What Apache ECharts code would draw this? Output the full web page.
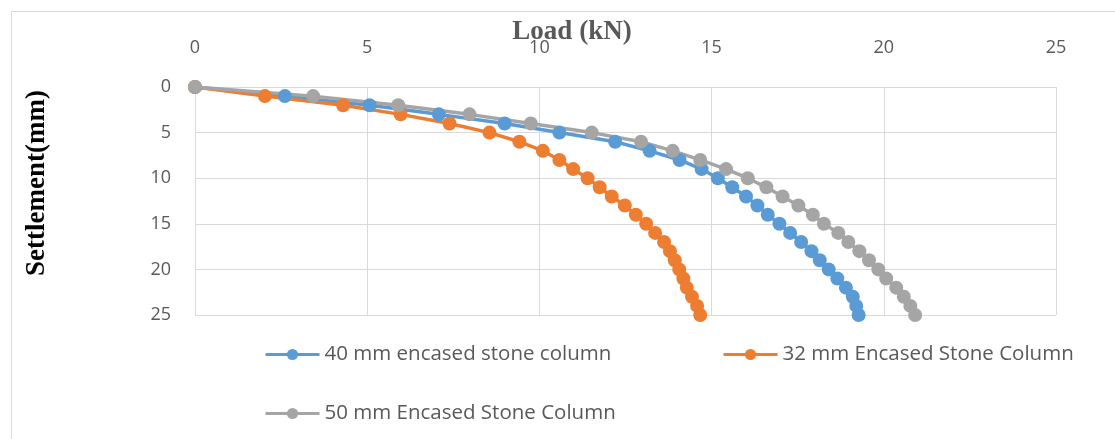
<!DOCTYPE html>
<html>
<head>
<meta charset="utf-8">
<script src="https://cdn.jsdelivr.net/npm/echarts@6/dist/echarts.min.js"></script>
<style>
  html, body { margin: 0; padding: 0; background: #fff; }
  #main { width: 1115px; height: 439px; }
</style>
</head>
<body>
<div id="main"></div>
<script>
// settlement steps (mm), one point per mm
var settlement = [0, 1, 2, 3, 4, 5, 6, 7, 8, 9, 10, 11, 12, 13, 14, 15, 16, 17, 18, 19, 20, 21, 22, 23, 24, 25];
// load (kN) for each settlement step
var load40 = [0, 2.61, 5.07, 7.08, 8.99, 10.58, 12.2, 13.2, 14.07, 14.71, 15.18, 15.6, 16.0, 16.33, 16.63, 16.97, 17.28, 17.6, 17.9, 18.14, 18.4, 18.65, 18.9, 19.1, 19.2, 19.27];
var load32 = [0, 2.03, 4.3, 5.97, 7.39, 8.55, 9.42, 10.1, 10.58, 10.98, 11.4, 11.75, 12.1, 12.48, 12.8, 13.1, 13.36, 13.62, 13.79, 13.93, 14.06, 14.18, 14.28, 14.43, 14.58, 14.67];
var load50 = [0, 3.43, 5.9, 7.97, 9.75, 11.52, 12.95, 13.87, 14.67, 15.42, 16.05, 16.59, 17.06, 17.52, 17.94, 18.26, 18.68, 18.97, 19.29, 19.57, 19.84, 20.07, 20.36, 20.58, 20.77, 20.91];
var seriesNames = ['40 mm encased stone column', '32 mm Encased Stone Column', '50 mm Encased Stone Column'];
var colors = ['#5b9bd5', '#ed7d31', '#a5a5a5'];

function pairs(loads) {
  return loads.map(function (v, i) { return [v, settlement[i]]; });
}

var myChart = echarts.init(document.getElementById('main'));
var labelFont = { fontFamily: 'Open Sans', fontSize: 18, color: '#595959' };

function legendAt(name, left, top) {
  return {
    data: [name],
    left: left,
    top: top,
    padding: 0,
    itemWidth: 54,
    itemHeight: 14,
    itemGap: 0,
    lineStyle: { width: 3 },
    textStyle: { fontFamily: 'Open Sans', fontSize: 20.5, color: '#595959' }
  };
}

var option = {
  backgroundColor: '#fff',
  animation: false,
  color: colors,
  grid: { left: 195, right: 59, top: 87, bottom: 124 },
  legend: [
    legendAt(seriesNames[0], 264, 344),
    legendAt(seriesNames[1], 722, 344),
    legendAt(seriesNames[2], 264, 403)
  ],
  graphic: [
    // outer frame (left + top only)
    { type: 'line', shape: { x1: 11.5, y1: 11.5, x2: 1115, y2: 11.5 }, style: { stroke: '#d9d9d9', lineWidth: 1 } },
    { type: 'line', shape: { x1: 11.5, y1: 11.5, x2: 11.5, y2: 439 }, style: { stroke: '#d9d9d9', lineWidth: 1 } },
    {
      type: 'text', z: 10,
      x: 572, y: 32,
      style: {
        text: 'Load (kN)', x: 0, y: 0,
        font: 'bold 27px "Liberation Serif"', fill: '#595959',
        align: 'center', verticalAlign: 'middle'
      }
    },
    {
      type: 'text', z: 10,
      x: 37, y: 183, rotation: Math.PI / 2,
      style: {
        text: 'Settlement(mm)', x: 0, y: 0,
        font: 'bold 27px "Liberation Serif"', fill: '#000',
        align: 'center', verticalAlign: 'middle'
      }
    }
  ],
  xAxis: {
    type: 'value',
    position: 'top',
    min: 0, max: 25, interval: 5,
    axisLine: { show: true, lineStyle: { color: '#d9d9d9' } },
    axisTick: { show: false },
    axisLabel: Object.assign({ margin: 30 }, labelFont),
    splitLine: { show: true, lineStyle: { color: '#d9d9d9', width: 1 } }
  },
  yAxis: {
    type: 'value',
    inverse: true,
    min: 0, max: 25, interval: 5,
    axisLine: { show: true, lineStyle: { color: '#d9d9d9' } },
    axisTick: { show: false },
    axisLabel: Object.assign({ margin: 24 }, labelFont),
    splitLine: { show: true, lineStyle: { color: '#d9d9d9', width: 1 } }
  },
  series: [
    { name: seriesNames[0], type: 'line', data: pairs(load40) },
    { name: seriesNames[1], type: 'line', data: pairs(load32) },
    { name: seriesNames[2], type: 'line', data: pairs(load50) }
  ].map(function (s, i) {
    s.symbol = 'circle';
    s.symbolSize = 14;
    s.lineStyle = { width: 3.5, color: colors[i] };
    s.itemStyle = { color: colors[i] };
    s.smooth = false;
    return s;
  })
};

myChart.setOption(option);
</script>
</body>
</html>
